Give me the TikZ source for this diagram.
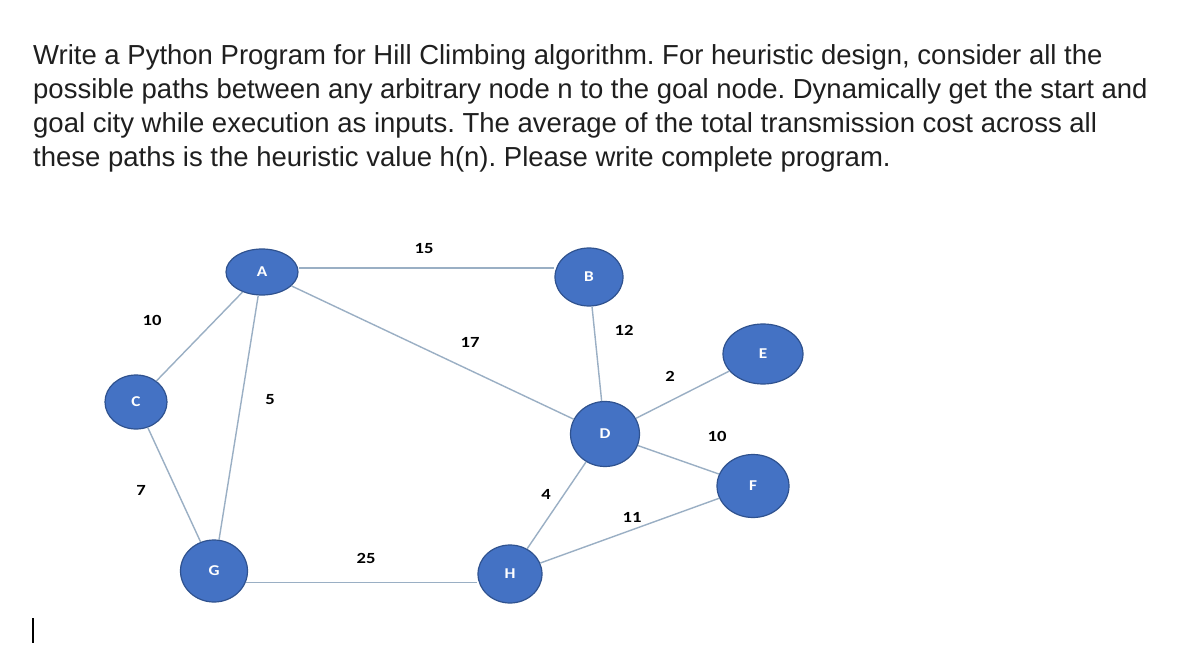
\documentclass[tikz,border=0pt]{standalone}
\usepackage{fontspec}
\usepackage{graphicx}
\setmainfont{Liberation Sans}
\newfontfamily\labfont{Carlito}
\usetikzlibrary{shapes.geometric}
\definecolor{nodefill}{HTML}{4472C4}
\definecolor{nodeedge}{HTML}{2F528F}
\definecolor{edgecol}{HTML}{9AAFC4}
\newcommand\wlab[1]{\scalebox{1.2}[1]{#1}}
\newcommand\clab[1]{\raisebox{-3pt}{\scalebox{1.15}[1]{#1}}}
\tikzset{
  city/.style={ellipse, fill=nodefill, draw=nodeedge, line width=1.2pt, inner sep=0pt,
    text=white, font=\labfont\bfseries\fontsize{15}{15}\selectfont},
  road/.style={draw=edgecol, line width=1.4pt},
  wt/.style={font=\labfont\bfseries\fontsize{15.5}{15.5}\selectfont, text=black},
  para/.style={anchor=base west, inner sep=0pt, font=\frenchspacing\fontsize{27.5}{34}\selectfont, text=black!88}
}
\begin{document}
\begin{tikzpicture}[x=1pt,y=-1pt]
\useasboundingbox (0,0) rectangle (1182,668);
\fill[white] (0,0) rectangle (1182,668);
% paragraph
\node[para] (l1) at (33,65) {Write a Python Program for Hill Climbing algorithm. For heuristic design, consider all the};
\node[para] (l2) at (33,99) {possible paths between any arbitrary node n to the goal node. Dynamically get the start and};
\node[para] (l3) at (33,133) {goal city while execution as inputs. The average of the total transmission cost across all};
\node[para] (l4) at (33,167) {these paths is the heuristic value h(n). Please write complete program.};
% nodes
\node[city, minimum width=72pt, minimum height=46pt] (A) at (262,272) {\clab{A}};
\node[city, minimum width=62pt, minimum height=54pt] (C) at (136,402) {\clab{C}};
\node[city, minimum width=68pt, minimum height=58pt] (B) at (589,277) {\clab{B}};
\node[city, minimum width=80pt, minimum height=60pt] (E) at (763,354) {\clab{E}};
\node[city, minimum width=69pt, minimum height=65pt] (D) at (605,434) {\clab{D}};
\node[city, minimum width=72pt, minimum height=63pt] (F) at (753,486) {\clab{F}};
\node[city, minimum width=64pt, minimum height=58pt] (H) at (510,574) {\clab{H}};
\node[city, minimum width=67pt, minimum height=62pt] (G) at (214,571) {\clab{G}};
% edges
\draw[road] (A.east) ++(0,-4) coordinate (ae) -- (B.west |- ae);
\draw[road] (A) -- (C);
\draw[road] (A) -- (G);
\draw[road] (A) -- (D);
\draw[road] (B) -- (D);
\draw[road] (D) -- (E);
\draw[road] (D) -- (F);
\draw[road] (D) -- (H);
\draw[road] (H) -- (F);
\draw[road] (G.-20) -- (H.west |- G.-20);
\draw[road] (C) -- (G);
% weights
\node[wt] (w15) at (424,249) {\wlab{15}};
\node[wt] (w10a) at (152,320) {\wlab{10}};
\node[wt] (w17) at (470,342) {\wlab{17}};
\node[wt] (w12) at (624,330) {\wlab{12}};
\node[wt] (w2) at (670,376) {\wlab{2}};
\node[wt] (w5) at (270,400) {\wlab{5}};
\node[wt] (w10b) at (717,436) {\wlab{10}};
\node[wt] (w7) at (141,490) {\wlab{7}};
\node[wt] (w4) at (546,494) {\wlab{4}};
\node[wt] (w11) at (632,517) {\wlab{11}};
\node[wt] (w25) at (366,558) {\wlab{25}};
% cursor
\coordinate (cur1) at (33,618);
\coordinate (cur2) at (33,643);
\draw[black, line width=1.3pt] (cur1) -- (cur2);
\end{tikzpicture}
\end{document}
